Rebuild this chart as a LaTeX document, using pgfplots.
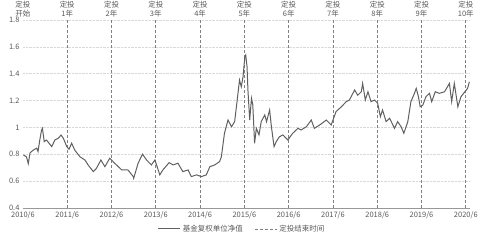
\documentclass[border=0pt]{standalone}
\usepackage{fontspec}
\setmainfont{Noto Sans CJK SC}
\usepackage{pgfplots}
\pgfplotsset{compat=1.18}
\definecolor{txt}{HTML}{595959}
\definecolor{ln}{HTML}{606060}
\definecolor{dl}{HTML}{808080}
\definecolor{gr}{HTML}{D9D9D9}
\tikzset{toplab/.style={font=\fontsize{7.5}{9}\selectfont, text=txt, align=center, anchor=south, inner sep=1pt, yshift=2pt}}
\begin{document}
\begin{tikzpicture}
\begin{axis}[
  name=ax,
  scale only axis, width=448pt, height=188pt,
  xmin=2010.5, xmax=2020.6, ymin=0.4, ymax=1.8,
  clip=false,
  axis lines*=left,
  x axis line style={draw=gr!70!black, line width=0.5pt},
  y axis line style={draw=none},
  xtick={2010.5,2011.5,2012.5,2013.5,2014.5,2015.5,2016.5,2017.5,2018.5,2019.5,2020.5},
  xticklabels={2010/6,2011/6,2012/6,2013/6,2014/6,2015/6,2016/6,2017/6,2018/6,2019/6,2020/6},
  ytick={0.4,0.6,0.8,1,1.2,1.4,1.6,1.8},
  yticklabels={0.4,0.6,0.8,1,1.2,1.4,1.6,1.8},
  ymajorgrids,
  y grid style={gr, densely dotted, line width=0.6pt},
  major tick length=0pt,
  tick style={draw=none},
  tick label style={font=\fontsize{7.5}{8}\selectfont, text=txt},
  /pgf/number format/assume math mode=true,
  extra x ticks={2011.5,2012.5,2013.5,2014.5,2015.5,2016.5,2017.5,2018.5,2019.5,2020.5},
  extra x tick labels={},
  extra x tick style={grid=major, major grid style={dl, densely dashed, line width=0.7pt}},
  legend style={draw=none, fill=none, at={(0.49,-0.112)}, anchor=center,
    legend columns=2, font=\fontsize{7.5}{9}\selectfont, text=txt,
    /tikz/every even column/.append style={column sep=10pt}},
  legend image code/.code={\draw[#1] (0pt,0pt) -- (22pt,0pt);},
]
\addplot[ln, line width=1pt] table {
x y
2010.51 0.795
2010.58 0.78
2010.62 0.73
2010.66 0.81
2010.73 0.83
2010.81 0.845
2010.84 0.82
2010.88 0.906
2010.92 0.98
2010.94 0.993
2010.98 0.894
2011.03 0.906
2011.07 0.89
2011.15 0.857
2011.22 0.906
2011.30 0.92
2011.36 0.943
2011.41 0.92
2011.49 0.857
2011.54 0.837
2011.60 0.882
2011.67 0.83
2011.79 0.78
2011.90 0.757
2011.97 0.72
2012.09 0.67
2012.16 0.695
2012.26 0.757
2012.35 0.707
2012.46 0.77
2012.57 0.733
2012.73 0.683
2012.87 0.683
2012.99 0.633
2013.00 0.62
2013.10 0.733
2013.20 0.80
2013.29 0.757
2013.40 0.72
2013.48 0.757
2013.59 0.646
2013.66 0.683
2013.80 0.737
2013.89 0.72
2014.00 0.733
2014.11 0.67
2014.23 0.683
2014.30 0.633
2014.42 0.646
2014.53 0.633
2014.64 0.646
2014.72 0.707
2014.83 0.72
2014.94 0.745
2014.98 0.78
2015.05 0.956
2015.13 1.055
2015.21 1.005
2015.28 1.043
2015.32 1.154
2015.39 1.353
2015.43 1.303
2015.47 1.378
2015.51 1.527
2015.53 1.54
2015.56 1.452
2015.58 1.279
2015.62 1.055
2015.66 1.217
2015.69 1.167
2015.73 0.882
2015.77 0.993
2015.83 0.944
2015.88 1.043
2015.96 1.093
2016.00 1.043
2016.07 1.13
2016.11 1.005
2016.17 0.857
2016.22 0.894
2016.29 0.93
2016.37 0.944
2016.48 0.906
2016.59 0.956
2016.71 0.993
2016.78 0.981
2016.90 1.005
2017.01 1.055
2017.08 0.993
2017.20 1.018
2017.35 1.055
2017.46 1.018
2017.57 1.118
2017.69 1.154
2017.80 1.192
2017.87 1.204
2017.99 1.279
2018.06 1.24
2018.14 1.266
2018.17 1.328
2018.23 1.204
2018.29 1.266
2018.36 1.192
2018.44 1.204
2018.51 1.18
2018.57 1.08
2018.62 1.13
2018.70 1.043
2018.78 1.068
2018.89 0.993
2018.96 1.043
2019.04 1.005
2019.10 0.956
2019.19 1.043
2019.26 1.192
2019.34 1.254
2019.38 1.291
2019.43 1.229
2019.47 1.154
2019.53 1.167
2019.60 1.229
2019.68 1.254
2019.73 1.192
2019.81 1.266
2019.90 1.254
2020.02 1.266
2020.13 1.328
2020.18 1.192
2020.24 1.328
2020.32 1.154
2020.39 1.229
2020.48 1.266
2020.54 1.291
2020.58 1.34
};
\addlegendentry{基金复权单位净值}
\addlegendimage{dl, densely dashed, line width=0.7pt}
\addlegendentry{定投结束时间}
\node[toplab] at (axis cs:2010.5,1.8) {定投\\开始};
\node[toplab] at (axis cs:2011.5,1.8) {定投\\1年};
\node[toplab] at (axis cs:2012.5,1.8) {定投\\2年};
\node[toplab] at (axis cs:2013.5,1.8) {定投\\3年};
\node[toplab] at (axis cs:2014.5,1.8) {定投\\4年};
\node[toplab] at (axis cs:2015.5,1.8) {定投\\5年};
\node[toplab] at (axis cs:2016.5,1.8) {定投\\6年};
\node[toplab] at (axis cs:2017.5,1.8) {定投\\7年};
\node[toplab] at (axis cs:2018.5,1.8) {定投\\8年};
\node[toplab] at (axis cs:2019.5,1.8) {定投\\9年};
\node[toplab] at (axis cs:2020.5,1.8) {定投\\10年};
\end{axis}
\path[use as bounding box] ([shift={(-23pt,-32pt)}]ax.south west) rectangle ([shift={(10pt,20pt)}]ax.north east);
\end{tikzpicture}
\end{document}
